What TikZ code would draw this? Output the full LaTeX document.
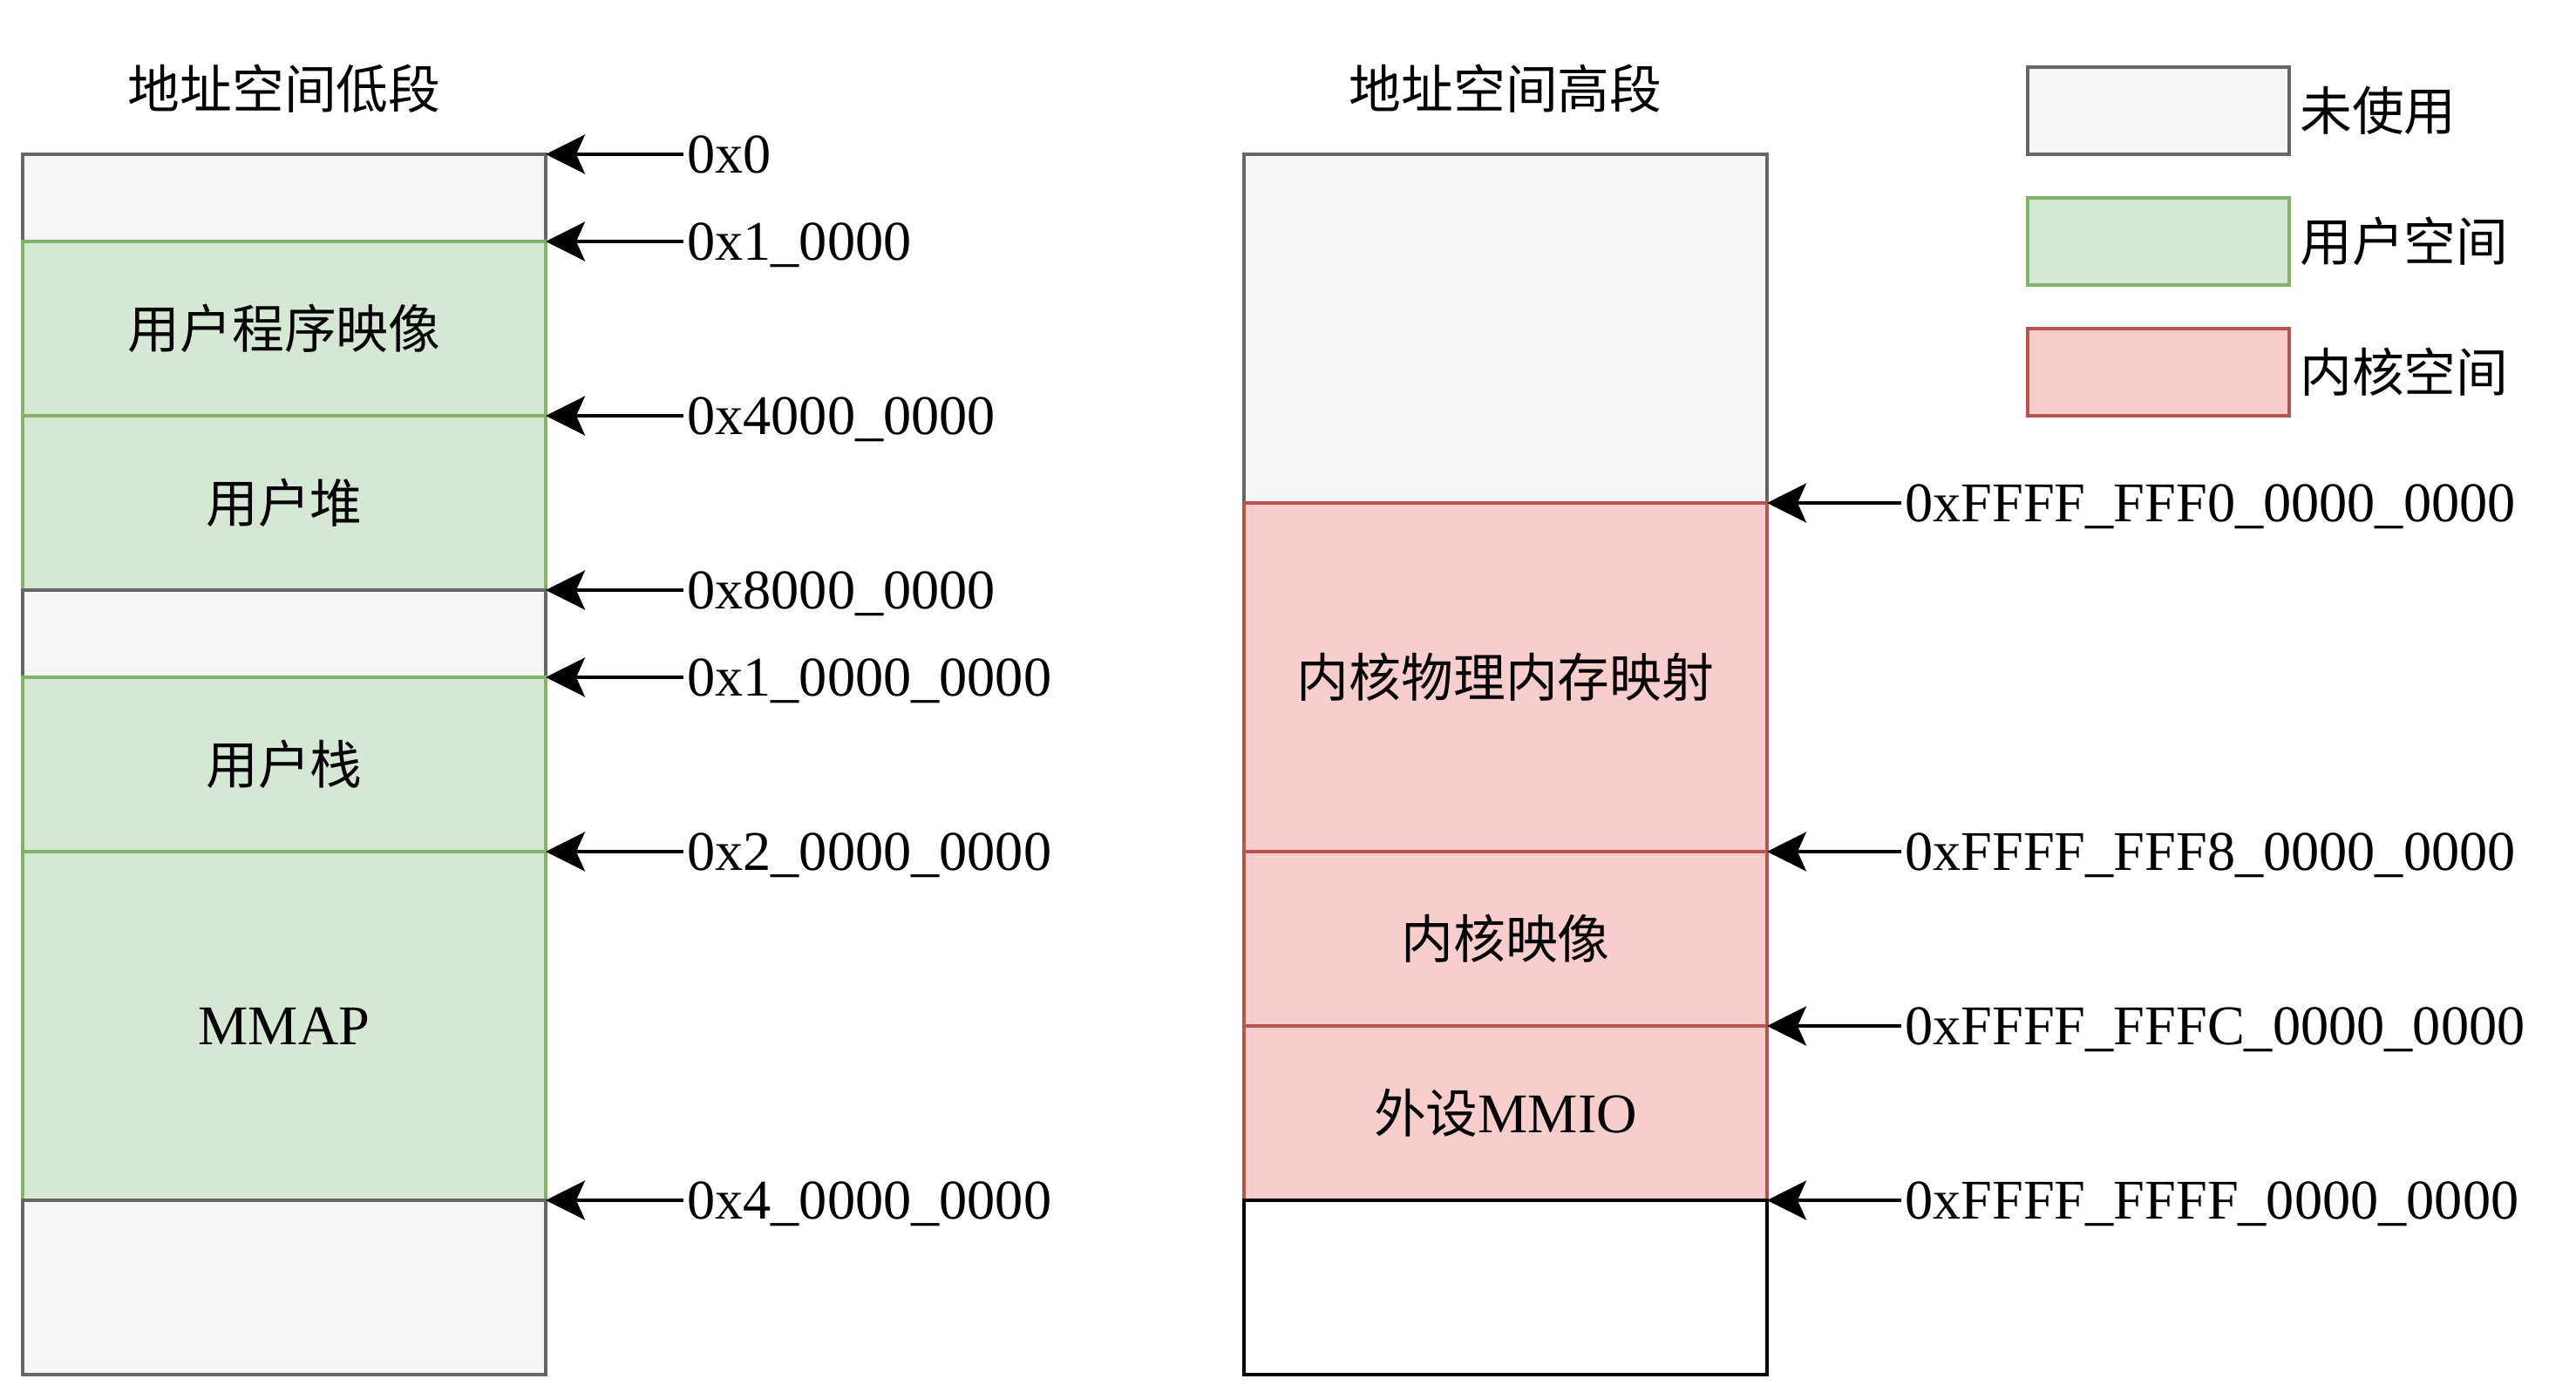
\documentclass[tikz,border=0pt]{standalone}
\usepackage{fontspec}
\setmainfont{Liberation Serif}
\newfontfamily\cjk[Scale=0.93]{Noto Sans CJK SC}
\usetikzlibrary{positioning,arrows.meta}
\definecolor{unusedfill}{HTML}{F5F5F5}
\definecolor{unuseddraw}{HTML}{666666}
\definecolor{userfill}{HTML}{D5E8D4}
\definecolor{userdraw}{HTML}{82B366}
\definecolor{kernfill}{HTML}{F8CECC}
\definecolor{kerndraw}{HTML}{B85450}
\newcommand{\zh}[1]{{\cjk #1}}
\tikzset{
	seg/.style={draw, line width=1.1pt, minimum width=6cm, outer sep=0pt, inner sep=0pt},
	unused/.style={seg, draw=unuseddraw, fill=unusedfill},
	user/.style={seg, draw=userdraw, fill=userfill},
	kern/.style={seg, draw=kerndraw, fill=kernfill},
	blank/.style={seg, draw=black, fill=white},
	legbox/.style={minimum width=3cm, minimum height=1cm},
	addr/.style={inner sep=1pt, text height=12.5pt, text depth=0pt},
	addrarrow/.style={-{Stealth[length=0.45cm, width=0.45cm, inset=0.1cm]}, line width=1.1pt}
}

\begin{document}
\begin{tikzpicture}[font=\fontsize{18.3pt}{21pt}\selectfont]
	\useasboundingbox (0,0) rectangle (29.55,-16.05);

	% low half of the address space
	\node (lotitle) at (3.26,-1.02) {\zh{地址空间低段}};
	\node[unused, minimum height=1cm] (lo0) at (3.26,-2.27) {};
	\node[user, minimum height=2cm, below=0pt of lo0] (lo1) {\zh{用户程序映像}};
	\node[user, minimum height=2cm, below=0pt of lo1] (lo2) {\zh{用户堆}};
	\node[unused, minimum height=1cm, below=0pt of lo2] (lo3) {};
	\node[user, minimum height=2cm, below=0pt of lo3] (lo4) {\zh{用户栈}};
	\node[user, minimum height=4cm, below=0pt of lo4] (lo5) {MMAP};
	\node[unused, minimum height=2cm, below=0pt of lo5] (lo6) {};

	\foreach \seg/\txt in {lo0/0x0, lo1/0x1\_0000, lo2/0x4000\_0000, lo3/0x8000\_0000,
		lo4/0x1\_0000\_0000, lo5/0x2\_0000\_0000, lo6/0x4\_0000\_0000}{
		\node[addr, right=1.58cm of \seg.north east] (a\seg) {\txt};
		\draw[addrarrow] (a\seg) -- (\seg.north east);
	}

	% high half of the address space
	\node (hititle) at (17.27,-1.02) {\zh{地址空间高段}};
	\node[unused, minimum height=4cm] (hi0) at (17.27,-3.77) {};
	\node[kern, minimum height=4cm, below=0pt of hi0] (hi1) {\zh{内核物理内存映射}};
	\node[kern, minimum height=2cm, below=0pt of hi1] (hi2) {\zh{内核映像}};
	\node[kern, minimum height=2cm, below=0pt of hi2] (hi3) {\zh{外设}MMIO};
	\node[blank, minimum height=2cm, below=0pt of hi3] (hi4) {};

	\foreach \seg/\txt in {hi1/0xFFFF\_FFF0\_0000\_0000, hi2/0xFFFF\_FFF8\_0000\_0000,
		hi3/0xFFFF\_FFFC\_0000\_0000, hi4/0xFFFF\_FFFF\_0000\_0000}{
		\node[addr, right=1.54cm of \seg.north east] (a\seg) {\txt};
		\draw[addrarrow] (a\seg) -- (\seg.north east);
	}

	% legend
	\node[unused, legbox] (legunused) at (24.76,-1.27) {};
	\node[user, legbox, below=0.5cm of legunused] (leguser) {};
	\node[kern, legbox, below=0.5cm of leguser] (legkern) {};
	\node[inner sep=1pt, right=0.08cm of legunused] {\zh{未使用}};
	\node[inner sep=1pt, right=0.08cm of leguser] {\zh{用户空间}};
	\node[inner sep=1pt, right=0.08cm of legkern] {\zh{内核空间}};
\end{tikzpicture}
\end{document}
